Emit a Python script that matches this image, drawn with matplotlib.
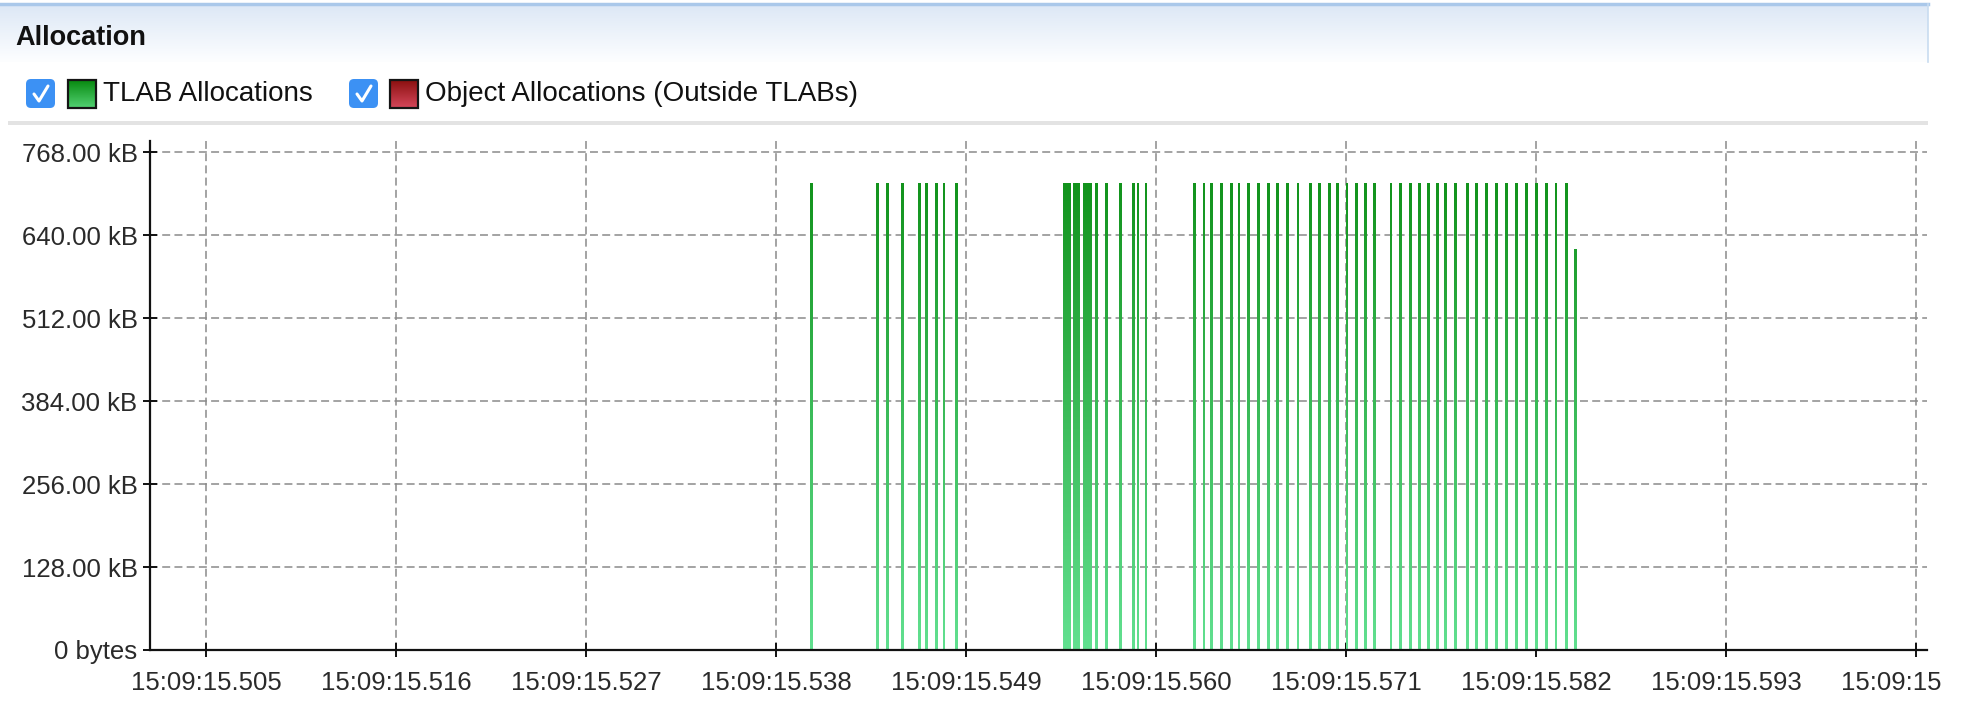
import numpy as np
import matplotlib
matplotlib.use("Agg")
import matplotlib.pyplot as plt
from matplotlib.colors import LinearSegmentedColormap
from matplotlib.patches import Rectangle, FancyBboxPatch, PathPatch
from matplotlib.path import Path
from matplotlib.transforms import Bbox, TransformedBbox

plt.rcParams['font.family'] = ['Liberation Sans', 'DejaVu Sans']

# TLAB-аллокации: время (мс после 15:09:15.000), длительность (мс), размер (kB)
tlab_ms = [540.07, 543.86, 544.44, 545.31, 546.30, 546.72, 547.30, 547.73, 548.46,
           554.85, 555.40, 556.03, 556.57, 557.13, 557.94, 558.69, 558.96, 559.42,
           562.22, 562.78, 563.22, 563.80, 564.38, 564.81, 565.38, 565.95, 566.50,
           567.06, 567.64, 568.22, 568.93, 569.48, 570.03, 570.49, 571.06, 571.59,
           572.14, 572.64, 573.61, 574.18, 574.72, 575.27, 575.77, 576.31, 576.77,
           577.33, 578.03, 578.58, 579.16, 579.72, 580.30, 580.88, 581.46, 582.04,
           582.62, 583.16, 583.75, 584.30]
tlab_duration_ms = [0.165] * 9 + [0.45, 0.44, 0.56] + [0.165] * 46
tlab_kb = [720] * 57 + [618]

# Аллокации вне TLAB (в этом интервале нет)
outside_ms = []
outside_kb = []

tick_ms = [505, 516, 527, 538, 549, 560, 571, 582, 593, 604]
tick_labels = ["15:09:15.%03d" % t for t in tick_ms]
ytick_kb = [0, 128, 256, 384, 512, 640, 768]
ytick_labels = ["0 bytes"] + ["%.2f kB" % v for v in ytick_kb[1:]]

W, H = 1962, 708
fig = plt.figure(figsize=(W / 100, H / 100), dpi=100)

# --- шапка панели (в пиксельных координатах) ---
hdr = fig.add_axes([0, 0, 1, 1], zorder=-1)
hdr.axis('off')
band = LinearSegmentedColormap.from_list('band', ['#dde8f6', '#fdfeff'])
hdr.imshow(np.linspace(0, 1, 64).reshape(-1, 1), extent=[0, 1928, 62, 5],
           cmap=band, aspect='auto', origin='upper')
hdr.plot([0, 1928], [4, 4], color='#aac8ea', lw=2.5)
hdr.plot([1928, 1928], [4, 62], color='#c8dcf0', lw=1.2)
hdr.text(15, 45, 'Allocation', fontsize=19.5, fontweight='bold', va='baseline',
         color='#111111')

green = LinearSegmentedColormap.from_list('g', ['#088a10', '#52d172'])
red = LinearSegmentedColormap.from_list('r', ['#8c1010', '#d4475a'])


def legend_item(x_box, x_sw, x_txt, cmap, label):
    hdr.add_patch(FancyBboxPatch((x_box, 79), 29, 29,
                                 boxstyle='round,pad=0,rounding_size=5',
                                 fc='#3c91f4', ec='none'))
    hdr.plot([x_box + 8, x_box + 13, x_box + 22], [94, 101, 86],
             color='white', lw=2.2, solid_capstyle='round')
    hdr.imshow(np.linspace(0, 1, 32).reshape(-1, 1),
               extent=[x_sw, x_sw + 28, 108, 80], cmap=cmap, aspect='auto',
               origin='upper')
    hdr.add_patch(Rectangle((x_sw, 80), 28, 28, fill=False, ec='#151515', lw=1.6))
    hdr.text(x_txt, 94, label, fontsize=20, va='center', color='#111111')


legend_item(26, 68, 103, green, 'TLAB Allocations')
legend_item(349, 390, 425, red, 'Object Allocations (Outside TLABs)')
hdr.add_patch(Rectangle((8, 121), 1920, 4, fc='#e3e3e3', ec='none'))
hdr.set_xlim(0, W)
hdr.set_ylim(H, 0)

# --- график ---
x0, x1 = 501.76, 604.64
ax = fig.add_axes([150 / W, (H - 650) / H, (1927 - 150) / W, (650 - 141) / H])
ax.set_facecolor('none')

bars = ax.bar(tlab_ms, tlab_kb, width=tlab_duration_ms, color='none', linewidth=0)
paths = [b.get_path().transformed(b.get_patch_transform()) for b in bars.patches]
clip = PathPatch(Path.make_compound_path(*paths), transform=ax.transData,
                 facecolor='none', edgecolor='none')
bar_grad = LinearSegmentedColormap.from_list('bg', ['#62e090', '#3cbc5a', '#12931c'])
im = ax.imshow(np.linspace(0, 1, 256).reshape(-1, 1), extent=[x0, x1, 0, max(tlab_kb)],
               origin='lower', aspect='auto', cmap=bar_grad, zorder=2,
               interpolation='bilinear')
im.set_clip_path(clip)

if outside_ms:
    ax.bar(outside_ms, outside_kb, width=0.165, color='#c03040', zorder=2)

ax.set_xlim(x0, x1)
ax.set_ylim(0, 785)
ax.set_xticks(tick_ms)
ax.set_xticklabels(tick_labels)
ax.set_yticks(ytick_kb)
ax.set_yticklabels(ytick_labels)
ax.set_axisbelow(True)
ax.grid(True, color='#8a8a8a', linewidth=1.1, linestyle=(0, (5.2, 2.8)))
for s in ['top', 'right']:
    ax.spines[s].set_visible(False)
for s in ['left', 'bottom']:
    ax.spines[s].set_linewidth(1.6)
    ax.spines[s].set_color('#111111')
ax.tick_params(axis='both', direction='inout', length=10, width=1.4,
               labelsize=18.5, labelcolor='#2a2a2a', color='#111111')
ax.tick_params(axis='y', pad=4)
ax.tick_params(axis='x', pad=10)

# панель обрезает последнюю подпись по правому краю, как в оригинале
panel_clip = TransformedBbox(Bbox([[0, 0], [1942 / W, 1]]), fig.transFigure)
for lab in ax.get_xticklabels():
    lab.set_clip_box(panel_clip)
    lab.set_clip_on(True)

fig.savefig('out.png', dpi=100, facecolor='white')
